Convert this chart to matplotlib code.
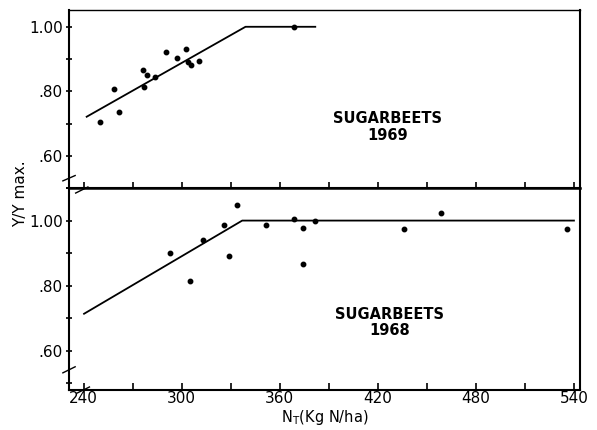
import numpy as np
import matplotlib
matplotlib.use('Agg')
import matplotlib.pyplot as plt
from matplotlib.ticker import MultipleLocator, FixedLocator

# 1969 data (top panel)
n69 = [250, 258.5, 261.6, 276.5, 278.9, 276.8, 283.4, 290.5, 297.2, 302.3, 304, 305.8, 310.4, 368.5]
y69 = [0.705, 0.806, 0.737, 0.865, 0.852, 0.814, 0.844, 0.921, 0.904, 0.931, 0.891, 0.880, 0.895, 1.0]
line69_x = [241.8, 339, 381.7]
line69_y = [0.721, 1.0, 1.0]

# 1968 data (bottom panel)
n68 = [292.5, 304.8, 312.9, 325.7, 329, 334, 351.8, 368.5, 374, 374, 381.3, 436.3, 458.7, 536]
y68 = [0.90, 0.816, 0.94, 0.986, 0.89, 1.049, 0.986, 1.006, 0.978, 0.867, 1.0, 0.974, 1.022, 0.974]
line68_x = [240.2, 337, 540]
line68_y = [0.714, 1.0, 1.0]

yticks = [0.60, 0.80, 1.00]
ylabels = ['.60', '.80', '1.00']
xticks = [240, 300, 360, 420, 480, 540]

plt.rcParams['font.family'] = 'DejaVu Sans'
fig = plt.figure(figsize=(5.97, 4.30), dpi=100)
ax1 = fig.add_axes([0.1156, 0.5628, 0.8559, 0.4139])
ax2 = fig.add_axes([0.1156, 0.093, 0.8559, 0.4698])

for ax in (ax1, ax2):
    ax.set_xlim(231, 543.7)
    ax.xaxis.set_major_locator(FixedLocator(xticks))
    ax.xaxis.set_minor_locator(MultipleLocator(30))
    ax.set_yticks(yticks)
    ax.set_yticklabels(ylabels)
    ax.yaxis.set_minor_locator(MultipleLocator(0.1))
    ax.tick_params(axis='y', which='both', direction='inout', length=5, width=1.2,
                   labelsize=11, pad=2)
    ax.tick_params(axis='x', which='both', width=1.2)
    for s in ax.spines.values():
        s.set_linewidth(1.5)

ax1.set_ylim(0.50, 1.052)
ax2.set_ylim(0.48, 1.10)

# top panel: bottom spine is the shared divider with crossing ticks
ax1.tick_params(axis='x', which='both', direction='inout', length=8, labelbottom=False)
ax1.spines['top'].set_linewidth(1.0)
ax2.tick_params(axis='x', which='both', direction='in', length=5, labelsize=11, pad=1,
                top=False)
ax2.spines['top'].set_linewidth(1.8)

ax1.plot(line69_x, line69_y, color='black', lw=1.3)
ax1.plot(n69, y69, 'o', color='black', ms=3.2)
ax2.plot(line68_x, line68_y, color='black', lw=1.3)
ax2.plot(n68, y68, 'o', color='black', ms=3.2)

ax1.text(425.7, 0.689, 'SUGARBEETS\n1969', ha='center', va='center', fontsize=10.5,
         fontweight='bold', linespacing=1.1)
ax2.text(427, 0.686, 'SUGARBEETS\n1968', ha='center', va='center', fontsize=10.5,
         fontweight='bold', linespacing=1.1)

ax2.set_xlabel(r'N$_\mathrm{T}$(Kg N/ha)', fontsize=10.5, labelpad=1)
fig.text(0.035, 0.55, 'Y/Y max.', rotation=90, ha='center', va='center', fontsize=11)

# axis break marks
def brk(ax, x, y):
    ax.plot([x - 0.012, x + 0.012], [y - 0.015, y + 0.015], transform=ax.transAxes,
            color='black', lw=1.0, clip_on=False)

brk(ax1, 0.0, 0.055)
brk(ax2, 0.0, 0.10)
brk(ax2, 0.025, 0.99)
brk(ax2, 0.028, 0.0)

fig.savefig('out.png', dpi=100)
